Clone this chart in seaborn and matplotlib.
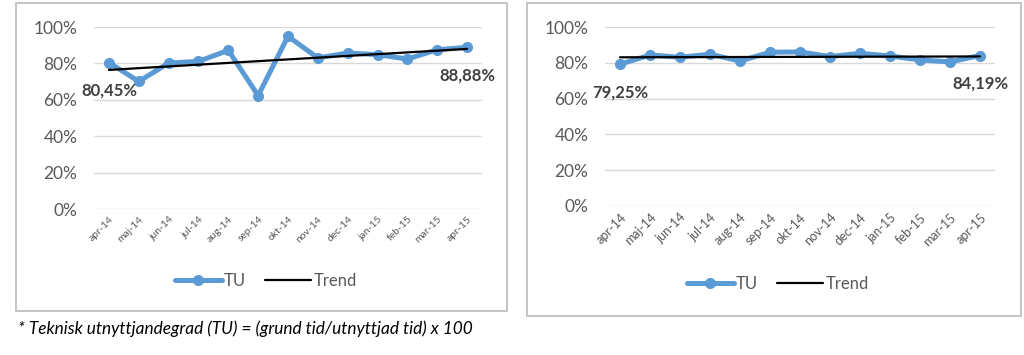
import numpy as np
import pandas as pd
import seaborn as sns
import matplotlib.pyplot as plt
from matplotlib.patches import Rectangle
from matplotlib.lines import Line2D
from matplotlib.ticker import PercentFormatter

months = ["apr-14", "maj-14", "jun-14", "jul-14", "aug-14", "sep-14", "okt-14",
          "nov-14", "dec-14", "jan-15", "feb-15", "mar-15", "apr-15"]
tu_left = [0.8045, 0.701, 0.802, 0.811, 0.872, 0.623, 0.949,
           0.830, 0.857, 0.848, 0.824, 0.875, 0.8888]
tu_right = [0.7925, 0.845, 0.832, 0.849, 0.811, 0.860, 0.862,
            0.836, 0.854, 0.839, 0.817, 0.806, 0.8419]
left_labels = ["80,45%", "88,88%"]
right_labels = ["79,25%", "84,19%"]
footnote = "* Teknisk utnyttjandegrad (TU) = (grund tid/utnyttjad tid) x 100"

sns.set_style("white")
plt.rcParams['font.family'] = ['Lato', 'DejaVu Sans']

BLUE = "#5B9BD5"
GREY = "#595959"

fig = plt.figure(figsize=(10.24, 3.55), dpi=100)


def draw_panel(rect, values, labels, xfs, box, legend_x, legend_y):
    df = pd.DataFrame({"pos": np.arange(len(months)), "TU": values})
    ax = fig.add_axes(rect)
    sns.lineplot(data=df, x="pos", y="TU", ax=ax, color=BLUE, linewidth=3.6,
                 marker="o", markersize=8, markeredgewidth=0)
    # linear trend line, like excel's "Trend"
    sns.regplot(data=df, x="pos", y="TU", ax=ax, scatter=False, ci=None,
                color="black", line_kws={"linewidth": 1.6})
    ax.set_xlim(-0.5, len(months) - 0.5)
    ax.set_ylim(0, 1.0)
    ax.set_yticks(np.arange(0, 1.01, 0.2))
    ax.yaxis.set_major_formatter(PercentFormatter(1.0, decimals=0))
    ax.set_xticks(df["pos"])
    ax.set_xticklabels(months, rotation=45, ha="right", rotation_mode="anchor",
                       fontsize=xfs, color=GREY)
    ax.tick_params(axis="y", labelsize=12.5, labelcolor=GREY, length=0, pad=12)
    ax.tick_params(axis="x", length=0, pad=4)
    ax.set_xlabel("")
    ax.set_ylabel("")
    ax.grid(axis="y", color="#D9D9D9", linewidth=1)
    ax.set_axisbelow(True)
    for s in ax.spines.values():
        s.set_visible(False)
    for idx, lab in zip([0, len(months) - 1], labels):
        ax.annotate(lab, (idx, values[idx]), xytext=(0, -20),
                    textcoords="offset points", ha="center", va="center",
                    fontsize=12, fontweight="bold", color="#404040")
    handles = [Line2D([], [], color=BLUE, linewidth=3.6, marker="o",
                      markersize=8, markeredgewidth=0),
               Line2D([], [], color="black", linewidth=1.6)]
    fig.legend(handles, ["TU", "Trend"], loc="center",
               bbox_to_anchor=(legend_x / 1024, 1 - legend_y / 355), ncol=2,
               frameon=False, fontsize=12, labelcolor=GREY, handlelength=2.8,
               handletextpad=0.15, columnspacing=1.1)
    x0, y0, x1, y1 = box
    fig.add_artist(Rectangle((x0 / 1024, 1 - y1 / 355), (x1 - x0) / 1024,
                             (y1 - y0) / 355, transform=fig.transFigure,
                             fill=False, edgecolor="#BFBFBF", linewidth=1.3))
    return ax


draw_panel([94 / 1024, 1 - 209 / 355, 388 / 1024, 182 / 355], tu_left,
           left_labels, 7.5, (16, 3, 507, 311), 266, 281)
draw_panel([605 / 1024, 1 - 205.7 / 355, 390 / 1024, 178.4 / 355], tu_right,
           right_labels, 9, (527, 3, 1021, 316), 778, 284)

fig.text(18 / 1024, 1 - 329 / 355, footnote, fontsize=12.4, style="italic",
         color="black", va="center", ha="left")

plt.savefig("out.png", dpi=100)
